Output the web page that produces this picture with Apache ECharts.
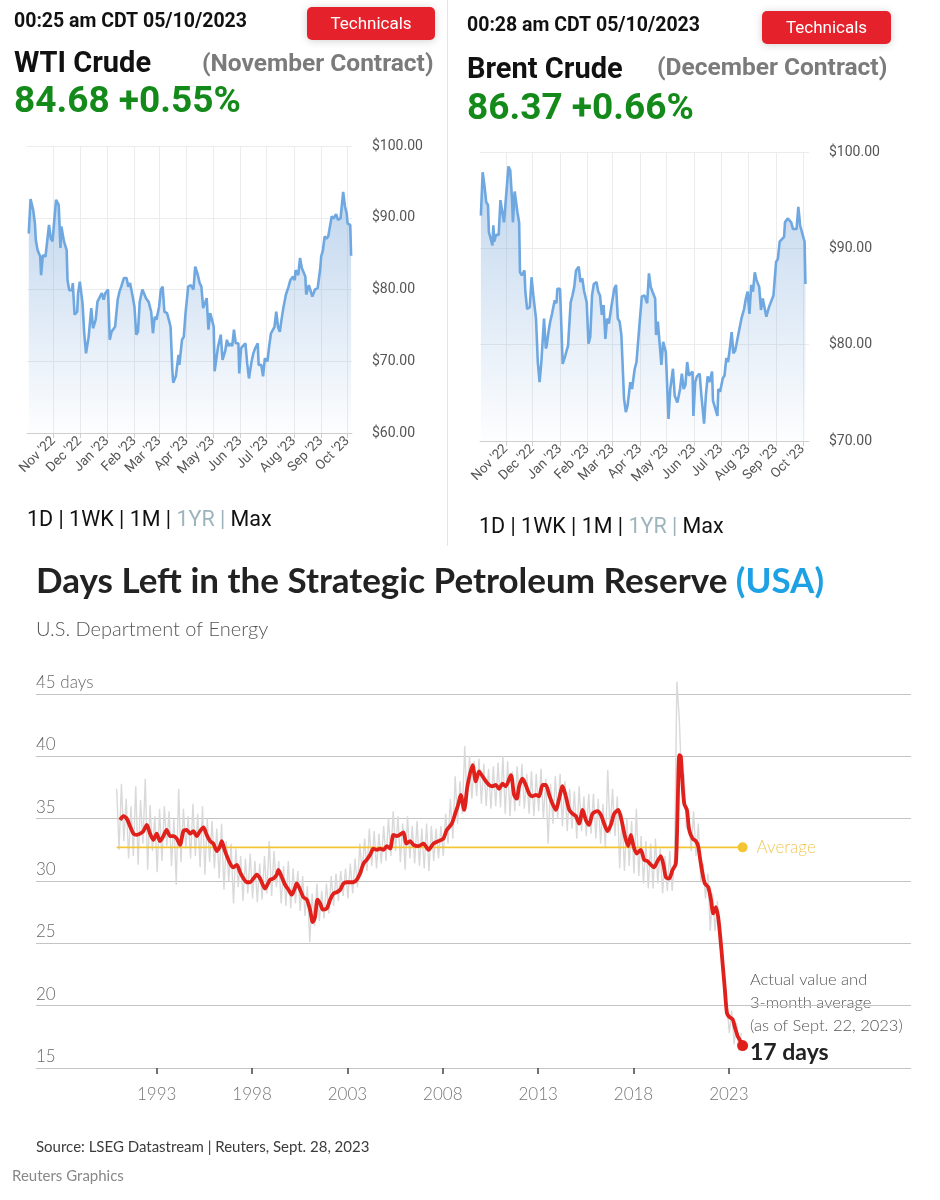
<!DOCTYPE html>
<html><head><meta charset="utf-8">
<script src="https://cdn.jsdelivr.net/npm/echarts@6/dist/echarts.min.js"></script>
<style>html,body{margin:0;padding:0;background:#fff}#c{width:940px;height:1200px}</style>
</head><body><div id="c"></div>
<script>
// ---------------- DATA ----------------
const monthTicks = ['2022-11-01','2022-12-01','2023-01-01','2023-02-01','2023-03-01','2023-04-01','2023-05-01','2023-06-01','2023-07-01','2023-08-01','2023-09-01','2023-10-01'];

const wtiDates = ['2022-10-04','2022-10-06','2022-10-09','2022-10-11','2022-10-12','2022-10-14','2022-10-17','2022-10-18','2022-10-20','2022-10-23','2022-10-24','2022-10-27','2022-10-29','2022-10-31','2022-11-02','2022-11-04','2022-11-07','2022-11-09','2022-11-10','2022-11-13','2022-11-15','2022-11-16','2022-11-17','2022-11-19','2022-11-22','2022-11-23','2022-11-25','2022-11-28','2022-11-29','2022-12-01','2022-12-04','2022-12-06','2022-12-08','2022-12-11','2022-12-14','2022-12-16','2022-12-19','2022-12-21','2022-12-23','2022-12-26','2022-12-28','2022-12-30','2023-01-02','2023-01-04','2023-01-06','2023-01-10','2023-01-13','2023-01-15','2023-01-17','2023-01-20','2023-01-23','2023-01-25','2023-01-27','2023-01-30','2023-02-01','2023-02-03','2023-02-05','2023-02-07','2023-02-10','2023-02-12','2023-02-14','2023-02-17','2023-02-20','2023-02-22','2023-02-24','2023-02-26','2023-03-01','2023-03-03','2023-03-05','2023-03-07','2023-03-10','2023-03-12','2023-03-14','2023-03-16','2023-03-17','2023-03-20','2023-03-23','2023-03-24','2023-03-27','2023-03-29','2023-03-31','2023-04-03','2023-04-06','2023-04-09','2023-04-11','2023-04-14','2023-04-16','2023-04-18','2023-04-20','2023-04-22','2023-04-24','2023-04-26','2023-04-28','2023-04-30','2023-05-02','2023-05-03','2023-05-05','2023-05-07','2023-05-10','2023-05-12','2023-05-15','2023-05-17','2023-05-19','2023-05-21','2023-05-23','2023-05-25','2023-05-27','2023-05-30','2023-05-31','2023-06-02','2023-06-04','2023-06-07','2023-06-09','2023-06-11','2023-06-14','2023-06-16','2023-06-18','2023-06-21','2023-06-22','2023-06-25','2023-06-27','2023-06-29','2023-07-02','2023-07-04','2023-07-06','2023-07-08','2023-07-10','2023-07-12','2023-07-14','2023-07-16','2023-07-18','2023-07-20','2023-07-23','2023-07-26','2023-07-28','2023-07-31','2023-08-02','2023-08-03','2023-08-06','2023-08-08','2023-08-10','2023-08-12','2023-08-14','2023-08-15','2023-08-18','2023-08-20','2023-08-22','2023-08-25','2023-08-28','2023-08-31','2023-09-01','2023-09-03','2023-09-05','2023-09-07','2023-09-09','2023-09-11','2023-09-13','2023-09-15','2023-09-18','2023-09-20','2023-09-23','2023-09-25','2023-09-26','2023-09-28','2023-09-30','2023-10-01','2023-10-04','2023-10-05'];
const wtiPrices = [87.8,92.6,91.1,89.2,86.9,85.5,84.6,82.0,84.8,84.6,84.8,89.0,87.1,86.7,89.7,92.5,91.8,85.8,88.8,86.7,86.9,85.5,81.3,79.9,79.9,80.9,76.5,76.9,79.5,81.1,78.1,73.9,71.1,73.4,77.4,74.6,75.8,78.3,78.1,79.5,78.6,79.5,80.0,73.0,74.1,74.8,78.6,79.7,80.4,81.6,81.6,80.4,80.9,79.0,77.6,73.7,74.1,78.3,80.0,80.2,78.8,78.3,76.9,73.9,76.2,75.8,77.6,80.0,80.4,76.9,76.7,75.8,74.8,68.8,67.0,67.9,70.9,69.5,73.0,73.4,76.7,80.4,80.6,80.0,83.2,82.0,80.9,80.4,77.4,78.1,78.8,74.4,76.7,75.8,74.8,68.6,68.8,72.1,73.7,70.2,71.4,73.0,72.1,72.5,72.1,74.4,72.5,72.5,68.3,71.8,72.1,72.5,69.7,67.6,70.0,71.1,71.8,72.5,69.5,69.5,67.9,70.4,70.0,72.1,73.9,73.7,74.8,76.9,74.8,74.1,75.8,77.4,79.3,80.4,81.3,81.8,81.3,82.7,82.0,84.4,83.0,82.8,81.8,79.3,80.6,80.4,79.0,80.0,80.2,83.0,84.6,85.5,87.4,87.1,87.4,88.8,90.2,89.9,90.5,89.7,89.9,89.7,93.6,91.6,90.6,89.2,89.0,84.7];

const brentDates = ['2022-10-04','2022-10-06','2022-10-08','2022-10-10','2022-10-12','2022-10-13','2022-10-15','2022-10-17','2022-10-18','2022-10-19','2022-10-21','2022-10-24','2022-10-26','2022-10-28','2022-10-30','2022-11-02','2022-11-04','2022-11-06','2022-11-08','2022-11-09','2022-11-11','2022-11-13','2022-11-14','2022-11-16','2022-11-17','2022-11-19','2022-11-22','2022-11-23','2022-11-25','2022-11-28','2022-11-30','2022-12-02','2022-12-05','2022-12-07','2022-12-09','2022-12-11','2022-12-14','2022-12-16','2022-12-17','2022-12-19','2022-12-21','2022-12-23','2022-12-26','2022-12-28','2022-12-29','2023-01-01','2023-01-04','2023-01-07','2023-01-10','2023-01-13','2023-01-15','2023-01-17','2023-01-19','2023-01-22','2023-01-24','2023-01-26','2023-01-28','2023-01-31','2023-02-02','2023-02-04','2023-02-06','2023-02-08','2023-02-11','2023-02-13','2023-02-15','2023-02-17','2023-02-19','2023-02-21','2023-02-23','2023-02-25','2023-02-28','2023-03-03','2023-03-05','2023-03-07','2023-03-09','2023-03-11','2023-03-14','2023-03-16','2023-03-18','2023-03-21','2023-03-23','2023-03-26','2023-03-28','2023-03-31','2023-04-03','2023-04-06','2023-04-09','2023-04-11','2023-04-13','2023-04-15','2023-04-18','2023-04-19','2023-04-21','2023-04-23','2023-04-25','2023-04-27','2023-04-30','2023-05-03','2023-05-05','2023-05-08','2023-05-10','2023-05-13','2023-05-16','2023-05-18','2023-05-20','2023-05-22','2023-05-24','2023-05-26','2023-05-28','2023-05-30','2023-05-31','2023-06-02','2023-06-04','2023-06-07','2023-06-09','2023-06-12','2023-06-14','2023-06-16','2023-06-18','2023-06-21','2023-06-22','2023-06-24','2023-06-27','2023-06-28','2023-06-30','2023-07-03','2023-07-05','2023-07-07','2023-07-09','2023-07-11','2023-07-13','2023-07-15','2023-07-17','2023-07-19','2023-07-21','2023-07-24','2023-07-27','2023-07-29','2023-07-31','2023-08-02','2023-08-04','2023-08-06','2023-08-08','2023-08-10','2023-08-13','2023-08-14','2023-08-15','2023-08-17','2023-08-19','2023-08-21','2023-08-24','2023-08-26','2023-08-29','2023-09-01','2023-09-03','2023-09-05','2023-09-07','2023-09-10','2023-09-11','2023-09-14','2023-09-16','2023-09-18','2023-09-20','2023-09-22','2023-09-24','2023-09-26','2023-09-28','2023-09-30','2023-10-02','2023-10-03','2023-10-04'];
const brentPrices = [93.4,97.9,96.5,94.8,94.5,91.7,91.5,90.3,92.4,90.7,91.4,91.4,95.0,93.8,92.7,96.2,98.5,98.1,95.2,92.7,95.9,94.5,93.8,92.7,87.5,87.2,87.7,85.5,83.7,83.9,87.0,85.1,82.7,78.2,76.1,78.2,82.7,79.6,79.9,81.3,82.4,83.2,84.6,84.3,85.8,85.8,78.0,78.9,79.9,84.4,85.1,86.0,87.7,88.1,86.5,86.9,85.6,84.4,80.1,80.8,85.1,86.3,86.5,85.5,85.1,83.1,84.1,80.6,82.7,82.2,84.1,85.8,86.2,82.7,82.4,81.0,74.4,73.0,73.7,76.1,75.4,77.5,78.2,81.7,85.0,85.1,84.3,87.4,86.0,85.5,84.8,81.0,82.4,82.5,77.9,80.3,79.2,72.3,75.4,77.5,74.7,74.0,75.4,77.0,75.4,75.8,78.2,76.8,77.0,77.2,72.6,76.1,76.7,77.0,74.7,71.8,74.7,76.7,76.1,77.2,74.2,74.2,72.6,75.4,75.1,76.5,76.8,78.6,78.2,79.6,81.3,79.1,79.4,79.6,81.3,82.7,83.7,84.8,85.5,83.2,86.2,85.5,87.5,86.7,86.0,84.8,83.6,84.8,84.6,82.9,83.9,83.9,85.1,88.6,88.9,90.7,90.7,91.2,92.7,93.1,93.3,92.7,92.0,91.9,92.0,94.3,92.4,91.7,91.0,90.7,86.3];

// Strategic Petroleum Reserve: days of supply
const sprYearTicks = [1993, 1998, 2003, 2008, 2013, 2018, 2023];
const spr3mYears = [1991.08,1991.25,1991.43,1991.6,1991.78,1991.95,1992.13,1992.3,1992.48,1992.65,1992.83,1993.0,1993.17,1993.35,1993.52,1993.7,1993.87,1994.05,1994.22,1994.4,1994.57,1994.75,1994.92,1995.1,1995.27,1995.45,1995.62,1995.8,1995.97,1996.15,1996.32,1996.41,1996.58,1996.85,1997.02,1997.2,1997.37,1997.55,1997.72,1997.9,1998.07,1998.25,1998.42,1998.68,1998.94,1999.12,1999.29,1999.38,1999.56,1999.73,1999.91,2000.08,2000.26,2000.34,2000.52,2000.69,2000.87,2001.04,2001.18,2001.3,2001.43,2001.57,2001.71,2001.92,2002.09,2002.27,2002.44,2002.62,2002.79,2002.97,2003.14,2003.31,2003.49,2003.66,2003.84,2004.01,2004.19,2004.36,2004.54,2004.71,2004.89,2005.06,2005.24,2005.41,2005.59,2005.94,2006.08,2006.29,2006.46,2006.72,2006.99,2007.25,2007.51,2007.77,2008.03,2008.21,2008.47,2008.65,2008.82,2008.94,2009.12,2009.29,2009.56,2009.73,2009.9,2010.08,2010.26,2010.43,2010.6,2010.78,2010.95,2011.13,2011.3,2011.57,2011.74,2011.88,2012.0,2012.18,2012.35,2012.53,2012.7,2012.88,2013.05,2013.23,2013.4,2013.58,2013.75,2013.93,2014.1,2014.28,2014.45,2014.63,2014.8,2014.98,2015.15,2015.33,2015.5,2015.67,2015.85,2016.11,2016.29,2016.46,2016.64,2016.81,2016.99,2017.2,2017.37,2017.55,2017.72,2017.86,2018.0,2018.17,2018.38,2018.56,2018.73,2018.91,2019.08,2019.26,2019.43,2019.57,2019.7,2019.87,2020.05,2020.22,2020.31,2020.4,2020.48,2020.57,2020.66,2020.8,2020.92,2021.1,2021.27,2021.39,2021.5,2021.62,2021.74,2021.92,2022.06,2022.18,2022.32,2022.44,2022.55,2022.67,2022.79,2022.9,2023.02,2023.2,2023.31,2023.45,2023.59,2023.72];
const spr3mDays = [34.9,35.2,35.0,34.4,33.8,33.7,33.8,34.0,34.5,33.8,33.3,33.8,33.2,33.6,34.1,33.6,33.6,33.4,32.9,34.0,34.1,33.8,34.0,33.6,34.0,34.3,33.7,33.2,33.0,32.4,32.8,33.2,32.4,31.4,31.1,31.3,30.7,30.2,29.9,29.9,30.2,30.5,30.2,29.4,30.1,30.2,30.5,30.9,30.3,29.7,29.3,28.9,29.5,29.8,29.3,28.7,28.5,27.7,26.7,27.1,28.5,28.2,27.7,27.8,28.5,29.0,29.1,29.3,29.8,29.9,29.9,29.9,30.1,30.6,31.4,31.7,32.1,32.6,32.5,32.6,32.5,32.8,32.6,33.7,33.6,33.9,33.0,33.2,32.9,32.8,33.0,32.5,33.0,33.2,33.4,34.1,34.6,35.4,36.2,36.9,35.7,37.6,39.3,38.0,38.8,38.4,38.0,37.7,37.6,37.7,37.4,37.8,37.6,38.5,36.9,36.6,37.6,38.2,37.7,37.0,36.8,36.9,36.8,37.7,37.7,36.9,36.2,35.7,36.6,37.6,36.8,35.7,35.4,35.2,34.6,35.7,34.9,34.5,35.4,35.6,35.3,34.6,34.0,34.5,35.4,35.7,34.9,33.6,32.8,33.7,32.8,32.2,32.5,31.7,31.6,31.3,31.1,31.6,32.0,31.3,30.3,30.2,30.9,31.4,35.7,40.1,40.0,37.8,36.2,35.7,34.1,33.4,33.2,32.8,31.7,30.6,29.8,29.5,28.5,27.4,27.9,27.1,25.5,23.4,21.3,19.4,19.1,18.9,18.3,17.6,17.2,16.8];
// weekly-sampled actual values (every 1/8 year from 1990.9)
const sprActualStart = 1990.9;
const sprActualStep = 0.125;
const sprActualDays = [
37.4,32.5,37.8,33.2,36.6,31.8,36.0,32.0,
37.6,31.3,36.5,33.0,38.2,30.9,36.1,32.4,
35.2,30.7,35.8,31.6,36.0,32.8,35.6,31.2,
35.0,29.7,37.4,31.5,35.8,32.6,35.2,31.8,
36.2,32.0,35.4,31.1,36.0,30.5,35.0,31.5,
34.8,31.0,34.2,30.2,34.6,29.3,33.2,30.0,
33.0,28.2,32.6,29.5,32.0,28.4,31.8,29.0,
32.2,28.6,31.6,28.3,31.4,28.5,32.0,29.0,
33.2,28.8,32.4,29.5,31.6,28.2,31.2,28.0,
31.6,27.8,31.0,28.2,30.8,27.6,30.4,27.2,
29.6,25.1,29.0,26.4,29.8,26.8,29.2,27.0,
29.8,27.4,30.4,28.0,30.6,28.4,30.8,28.8,
31.0,28.6,31.4,29.0,31.8,29.5,33.0,30.6,
33.4,30.8,34.2,31.2,34.0,31.0,33.8,31.4,
34.4,31.6,35.0,32.0,35.6,32.4,35.2,31.5,
34.6,30.9,35.2,31.8,34.4,31.4,34.8,31.2,
34.2,31.0,34.6,30.8,34.4,31.6,34.2,31.8,
34.4,32.0,35.4,33.0,36.6,33.4,38.4,34.6,
38.0,35.4,40.8,36.2,40.0,36.6,39.6,36.8,
39.8,36.2,39.4,36.0,39.0,35.8,39.2,36.0,
39.5,35.9,40.0,35.4,39.6,35.2,38.8,35.6,
39.2,36.0,39.4,35.8,38.6,35.4,38.8,35.2,
38.6,35.6,39.0,35.0,38.2,33.0,37.8,34.6,
38.4,35.0,38.6,34.4,38.0,34.0,37.4,34.2,
37.2,33.4,37.6,34.0,36.8,33.6,37.0,33.8,
37.0,33.4,36.6,33.0,36.2,32.6,38.9,33.8,
37.4,33.6,36.8,31.0,35.4,30.8,35.0,31.2,
34.8,30.6,35.8,30.4,33.6,29.8,33.2,29.4,
33.0,29.4,33.4,29.8,32.6,29.0,32.0,29.2,
32.4,29.2,31.8,46.0,43.0,38.0,38.6,34.2,
35.0,32.4,35.6,32.0,34.6,30.0,31.4,28.6,
30.6,26.0,29.0,26.0,28.4,24.6,24.8,20.2,
20.0,17.8,19.6,16.9,18.6,16.4,17.8
];
const sprAverage = 32.7;
const sprAverageRange = [1990.9, 2023.72];

// ---------------- CHART ----------------
const ts = s => new Date(s + 'T00:00:00Z').getTime();
const MONTHS = ['Jan','Feb','Mar','Apr','May','Jun','Jul','Aug','Sep','Oct','Nov','Dec'];
const monthLabel = v => { const d = new Date(v); return MONTHS[d.getUTCMonth()] + " '" + String(d.getUTCFullYear()).slice(2); };
const monthTs = monthTicks.map(ts);
const zip = (xs, ys, f) => xs.map((x, i) => [f ? f(x) : x, ys[i]]);

const chart = echarts.init(document.getElementById('c'), null, {renderer: 'canvas', width: 940, height: 1200});

const priceX = (gi, min, max) => ({
  gridIndex: gi, type: 'value', min: ts(min), max: ts(max),
  axisLine: {show: true, lineStyle: {color: '#cfcfcf', width: 1}},
  axisTick: {show: true, customValues: monthTs, length: 5, lineStyle: {color: '#cfcfcf'}},
  axisLabel: {customValues: monthTs, formatter: monthLabel, rotate: 45, color: '#555', fontSize: 13.5, fontFamily: 'Roboto', margin: 6},
  splitLine: {show: true, lineStyle: {color: '#ececec', width: 1}}
});
const priceY = (gi, min, max) => ({
  gridIndex: gi, type: 'value', position: 'right', min: min, max: max, interval: 10,
  axisLine: {show: false}, axisTick: {show: false},
  axisLabel: {formatter: v => '$' + v.toFixed(2), color: '#555', fontSize: 14, fontFamily: 'Roboto', margin: 20},
  splitLine: {show: true, lineStyle: {color: '#ececec', width: 1}}
});
const priceSeries = (idx, data) => ({
  type: 'line', xAxisIndex: idx, yAxisIndex: idx, data: data, symbol: 'none', z: 3,
  lineStyle: {color: '#6fa8e1', width: 2.6},
  areaStyle: {color: new echarts.graphic.LinearGradient(0, 0, 0, 1, [
    {offset: 0, color: 'rgba(110,160,215,0.62)'},
    {offset: 1, color: 'rgba(110,160,215,0.02)'}
  ])}
});

const T = (x, y, text, font, fill, extra) => Object.assign({
  type: 'text', x: x, y: y, silent: true,
  style: Object.assign({text: text, font: font, fill: fill, align: 'left', verticalAlign: 'middle', textAlign: 'left', textVerticalAlign: 'middle'}, extra || {})
});
const button = (x, y, w, h) => [
  {type: 'rect', shape: {x: x, y: y, width: w, height: h, r: 5}, silent: true,
   style: {fill: '#e5222b', shadowBlur: 8, shadowColor: 'rgba(0,0,0,0.18)', shadowOffsetY: 1}},
  T(x + w / 2, y + h / 2 + 1, 'Technicals', '17px Roboto', '#fff', {align: 'center', textAlign: 'center'})
];
const rangeRow = (x, y) => T(x, y, '{a|1D | 1WK | 1M | }{b|1YR | }{a|Max}', '21.5px Roboto', '#111', {
  rich: {a: {fill: '#111', color: '#111', fontSize: 21.5, fontFamily: 'Roboto'},
         b: {fill: '#9db4bc', color: '#9db4bc', fontSize: 21.5, fontFamily: 'Roboto'}}
});

const graphics = [].concat(
  [{type: 'line', shape: {x1: 447.5, y1: 0, x2: 447.5, y2: 546}, silent: true, style: {stroke: '#e4e4e4', lineWidth: 1}}],
  [T(14, 22, '00:25 am CDT 05/10/2023', 'bold 19.5px Roboto', '#111')],
  button(307, 7, 128, 33),
  [T(14, 65, 'WTI Crude', 'bold 29px Roboto', '#111'),
   T(202, 65, '(November Contract)', 'bold 24.5px Roboto', '#7b7b7b'),
   T(14, 103, '84.68 +0.55%', 'bold 37px Roboto', '#148a1a'),
   rangeRow(27, 521)],
  [T(467, 26, '00:28 am CDT 05/10/2023', 'bold 19.5px Roboto', '#111')],
  button(762, 11, 129, 33),
  [T(467, 71, 'Brent Crude', 'bold 29px Roboto', '#111'),
   T(657, 69, '(December Contract)', 'bold 24.5px Roboto', '#7b7b7b'),
   T(467, 110, '86.37 +0.66%', 'bold 37px Roboto', '#148a1a'),
   rangeRow(479, 528)],
  [T(36, 582, '{t|Days Left in the Strategic Petroleum Reserve} {u|(USA)}', 'bold 35px Lato', '#222', {
     rich: {t: {fill: '#222', color: '#222', fontSize: 35, fontWeight: 'bold', fontFamily: 'Lato'},
            u: {fill: '#1da1e4', color: '#1da1e4', fontSize: 35, fontWeight: 'bold', fontFamily: 'Lato'}}}),
   T(36, 630, 'U.S. Department of Energy', '300 20px Lato', '#555'),
   T(750, 980, 'Actual value and', '300 16.5px Lato', '#555'),
   T(750, 1003, '3-month average', '300 16.5px Lato', '#555'),
   T(750, 1026, '(as of Sept. 22, 2023)', '300 16.5px Lato', '#555'),
   T(750, 1053, '17 days', 'bold 23px Lato', '#222'),
   T(36, 1147, 'Source: LSEG Datastream | Reuters, Sept. 28, 2023', '15px Lato', '#3c3c3c'),
   T(12, 1176, 'Reuters Graphics', '15px Lato', '#888')]
);

const redData = zip(spr3mYears, spr3mDays);
const lastRed = redData.pop();
redData.push({value: lastRed, symbol: 'circle', symbolSize: 11, itemStyle: {color: '#e0201b'}});

const option = {
  backgroundColor: '#fff',
  animation: false,
  grid: [
    {left: 27, top: 146, width: 325, height: 287, outerBoundsMode: 'none'},
    {left: 480, top: 152, width: 329, height: 289, outerBoundsMode: 'none'},
    {left: 36, top: 694, width: 875, height: 374, outerBoundsMode: 'none'}
  ],
  xAxis: [
    priceX(0, '2022-10-02', '2023-10-06'),
    priceX(1, '2022-10-03', '2023-10-08'),
    {gridIndex: 2, type: 'value', min: 1986.67, max: 2032.55,
     axisLine: {show: false},
     axisTick: {show: true, customValues: sprYearTicks, length: 6, lineStyle: {color: '#444', width: 1.5}},
     axisLabel: {customValues: sprYearTicks, formatter: v => String(v), color: '#777', fontSize: 17, fontFamily: 'Lato', fontWeight: 300, margin: 18},
     splitLine: {show: false}}
  ],
  yAxis: [
    priceY(0, 60, 100),
    priceY(1, 70, 100),
    {gridIndex: 2, type: 'value', min: 15, max: 45, interval: 5,
     axisLine: {show: false}, axisTick: {show: false},
     axisLabel: {inside: true, margin: 0, align: 'left', verticalAlign: 'bottom', padding: [0, 0, 3, 0],
                 formatter: v => v === 45 ? '45 days' : String(v), color: '#6a6a6a', fontSize: 17, fontFamily: 'Lato', fontWeight: 300},
     splitLine: {show: true, lineStyle: {color: '#c4c4c4', width: 1.2}}}
  ],
  series: [
    priceSeries(0, zip(wtiDates, wtiPrices, ts)),
    priceSeries(1, zip(brentDates, brentPrices, ts)),
    {type: 'line', xAxisIndex: 2, yAxisIndex: 2, symbol: 'none', clip: false, z: 2,
     data: sprActualDays.map((v, i) => [sprActualStart + i * sprActualStep, v]),
     lineStyle: {color: '#d9d9d9', width: 1.4}},
    {type: 'line', xAxisIndex: 2, yAxisIndex: 2, z: 3, showAllSymbol: true, symbol: 'none',
     data: [{value: [sprAverageRange[0], sprAverage]}, {value: [sprAverageRange[1], sprAverage], symbol: 'circle', symbolSize: 10}],
     itemStyle: {color: '#f3c534'},
     lineStyle: {color: '#f3c534', width: 1.6},
     endLabel: {show: true, formatter: 'Average', color: '#f3c85a', fontSize: 17, fontFamily: 'Lato', fontWeight: 300, distance: 14}},
    {type: 'line', xAxisIndex: 2, yAxisIndex: 2, z: 4, showAllSymbol: true, symbol: 'none', smooth: 0.25,
     data: redData,
     lineStyle: {color: '#e0201b', width: 3.8}}
  ],
  graphic: {elements: graphics}
};
chart.setOption(option);
</script>
</body></html>
